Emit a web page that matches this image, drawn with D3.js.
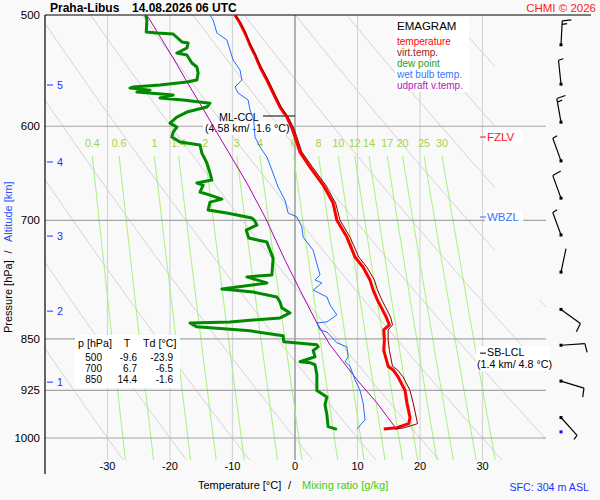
<!DOCTYPE html>
<html>
<head>
<meta charset="utf-8">
<script src="https://cdn.jsdelivr.net/npm/d3@7"></script>
<style>
  body { margin: 0; background: #f9f9f9; }
  svg { font-family: "Liberation Sans", Arial, sans-serif; font-size: 10.7px; }
</style>
</head>
<body>
<div id="emagram"></div>
<script>
// Sounding data (pressure in hPa, temperatures in deg C)
var tempP = [500, 506.6, 515, 525.2, 533.9, 544.5, 556.2, 568.2, 581.4, 591, 601.8, 610.7, 625.9, 641.5, 660.7, 680.5, 699.8, 719.5, 743.4, 755.9, 771.8, 784.8, 797.7, 820.4, 830.8, 837.7, 851.6, 866.3, 889, 894.5, 904.8, 925, 944, 966.8, 976.8, 983.3, 985.5];
var tempT = [-9.6, -8.8, -8.0, -7.2, -6.4, -5.6, -4.5, -3.5, -2.4, -1.3, -0.5, 0.0, 0.8, 2.4, 4.5, 6.1, 6.7, 8.3, 9.6, 10.9, 12.0, 12.5, 13.2, 14.6, 15.1, 14.2, 14.3, 14.2, 14.9, 15.7, 16.5, 17.6, 17.9, 18.4, 18.2, 16.3, 14.2];
var virtT = [-9.5, -8.7, -7.9, -7.1, -6.3, -5.4, -4.3, -3.3, -2.2, -1.1, -0.2, 0.3, 1.1, 2.8, 4.9, 6.5, 7.2, 8.8, 10.2, 11.5, 12.7, 13.2, 13.9, 15.3, 15.6, 14.9, 14.9, 15.1, 15.6, 16.4, 17.3, 18.4, 18.9, 19.4, 19.6, 17.5, 16.0];

var dewP = [500, 504.1, 514.2, 515, 515.8, 522.6, 523.5, 527.8, 532.2, 533.9, 540.9, 544.5, 549.9, 556.2, 558.1, 560.8, 562.6, 563.6, 565.5, 567.3, 570.1, 572.9, 574.7, 577.7, 581.4, 586.2, 591, 596.9, 600.8, 605.9, 610.7, 615.7, 618.7, 627, 637.2, 647.7, 655.3, 658.5, 660.7, 668.3, 671.7, 676.1, 679.4, 688.3, 691.7, 697.4, 700, 705.4, 711.3, 720.6, 725.4, 735.1, 744.7, 765.5, 768, 775.6, 783.5, 787.3, 793.6, 800.2, 808, 814.7, 821.4, 826.8, 828.2, 833.5, 838.9, 845.7, 854.1, 858.4, 861.3, 866.3, 875.4, 882.6, 883.9, 886.9, 901.5, 925, 935, 946.8, 962.4, 981.5, 986];
var dewT = [-23.9, -23.7, -23.8, -22.1, -19.5, -18.1, -17.1, -17.3, -18.9, -17.3, -16.5, -15.7, -15.5, -15.7, -17.3, -21.6, -25.9, -26.4, -23.2, -25.3, -19.5, -21.6, -17.9, -13.6, -14.1, -17.3, -18.9, -20.0, -18.9, -19.5, -19.7, -18.4, -15.2, -14.9, -14.1, -13.6, -13.3, -15.7, -14.7, -15.2, -13.6, -11.7, -13.6, -13.9, -10.9, -6.9, -6.5, -6.1, -7.8, -7.4, -4.5, -4.0, -3.5, -3.7, -7.7, -4.5, -11.7, -6.7, -2.9, -2.4, -2.1, -0.8, -2.4, -10.4, -16.8, -15.7, -7.2, -1.9, -1.8, 3.5, 3.7, 2.9, 3.2, 0.8, 2.4, 3.2, 3.5, 3.5, 5.1, 4.8, 5.1, 5.3, 6.7];

var wetP = [500, 504.1, 515, 520.9, 529.5, 538.3, 547.1, 556.2, 562.6, 568.2, 574.7, 584.2, 593.9, 610.7, 620.8, 631, 644.6, 662.9, 677.2, 691.7, 696.2, 707.7, 719.5, 735.1, 765.5, 771.8, 775.6, 784.8, 793.6, 803.9, 817.3, 826.8, 828.2, 837.7, 840.5, 855.5, 861.3, 875.4, 882.6, 889, 908.9, 925, 944, 970.4, 983.3, 985.5];
var wetT = [-13.6, -13.1, -12.5, -10.9, -10.4, -9.9, -8.8, -8.5, -9.6, -9.1, -7.5, -7.2, -6.6, -6.4, -5.6, -4.5, -3.7, -2.7, -1.6, -1.1, 0.3, 1.1, 1.3, 2.9, 4.0, 3.2, 4.3, 2.9, 5.1, 5.6, 6.7, 5.1, 3.5, 4.0, 5.1, 6.7, 8.3, 8.5, 8.0, 8.8, 9.6, 10.4, 10.9, 11.2, 10.1, 9.9];

var parcelP = [500, 536.5, 562.6, 584.2, 613.6, 658.5, 696.2, 747.2, 784.8, 828.2, 858.4, 908.9, 944, 986.3];
var parcelT = [-23.7, -19.5, -16.8, -14.6, -11.8, -7.7, -4.8, -1.6, 0.8, 3.5, 5.6, 9.9, 13.1, 16.3];

// Wind (direction deg, speed kt)
var windP = [525, 560, 596, 635, 675, 717, 762, 810, 859, 911, 967];
var windDir = [3, 354, 350, 340, 340, 340, 12, 126, 86, 107, 138];
var windSpd = [15, 5, 15, 5, 10, 5, 2, 10, 10, 10, 5];
var sfcP = 990;

// Axes and reference lines
var pressureTicks = [500, 600, 700, 850, 925, 1000];
var isobars = [600, 700, 850, 925, 1000];
var tempTicks = [-30, -20, -10, 0, 10, 20, 30];
var altKm = [1, 2, 3, 4, 5];
var altP = [912.5, 812.3, 718.3, 636.2, 560.8];
var mixRatios = [0.4, 0.6, 1, 1.4, 2, 3, 4, 6, 8, 10, 12, 14, 17, 20, 25, 30];
var adiabats = d3.range(-30, 171, 10);

// Table of standard levels
var tableP = [500, 700, 850];
var tableT = [-9.6, 6.7, 14.4];
var tableTd = [-23.9, -6.5, -1.6];

// Levels of annotations
var mlCclP = 590, fzlvP = 610.7, wbzlP = 696.2, sbLclP = 870.2;

// Set up the chart
var svgWidth = 600;
var svgHeight = 500;
var plotLeft = 45, plotRight = 546, plotTop = 15;
var bottomP = 1037;

var svg = d3.select("#emagram")
  .append("svg")
  .attr("width", svgWidth)
  .attr("height", svgHeight);

var xScale = d3.scaleLinear().domain([-40, 40]).range([45, 545]);
var yScale = d3.scaleLog().domain([500, 1000]).range([15, 438]);
var plotBottom = yScale(bottomP);

// saturation temperature for a mixing ratio (g/kg) at pressure p
function satTemp(w, p) {
  var e = w * p / (622 + w);
  var l = Math.log(e / 6.112);
  return 243.5 * l / (17.67 - l);
}

var line = d3.line()
  .x(d => xScale(d[1]))
  .y(d => yScale(d[0]));

svg.append("clipPath").attr("id", "plotClip")
  .append("polygon")
  .attr("points", `${plotLeft},${plotTop} 495,${plotTop} 495,300 ${plotRight},300 ${plotRight},${plotBottom} ${plotLeft},${plotBottom}`);

var grid = svg.append("g").attr("clip-path", "url(#plotClip)");
var pSteps = d3.range(500, bottomP, 4).concat([bottomP]);

// Dry adiabats
grid.selectAll(".adiabat")
  .data(adiabats)
  .enter()
  .append("path")
  .attr("class", "adiabat")
  .attr("d", th => line(pSteps.map(p => [p, (th + 273.15) * Math.pow(p / 1000, 0.286) - 273.15])))
  .attr("fill", "none")
  .attr("stroke", "#d2d2d2")
  .attr("stroke-width", 1);

// Isotherms
grid.selectAll(".isotherm")
  .data(tempTicks)
  .enter()
  .append("line")
  .attr("x1", d => xScale(d))
  .attr("x2", d => xScale(d))
  .attr("y1", yScale(500))
  .attr("y2", plotBottom)
  .attr("stroke", d => d === 0 ? "#8c8c8c" : "#d6d6d6")
  .attr("stroke-width", d => d === 0 ? 1.3 : 1.2);

// Mixing ratio lines
var mixSteps = d3.range(630, bottomP, 5).concat([bottomP]);
grid.selectAll(".mixing")
  .data(mixRatios)
  .enter()
  .append("path")
  .attr("d", w => line(mixSteps.map(p => [p, satTemp(w, p)])))
  .attr("fill", "none")
  .attr("stroke", "#a6f07a")
  .attr("stroke-width", 1);

svg.selectAll(".mixLabel")
  .data(mixRatios)
  .enter()
  .append("text")
  .attr("x", w => xScale(satTemp(w, 630)))
  .attr("y", 147)
  .attr("text-anchor", "middle")
  .attr("fill", "#9fd34a")
  .text(d => d);

// Isobars
svg.selectAll(".isobar")
  .data(isobars)
  .enter()
  .append("line")
  .attr("x1", plotLeft)
  .attr("x2", plotRight)
  .attr("y1", d => yScale(d))
  .attr("y2", d => yScale(d))
  .attr("stroke", "#a6a6a6")
  .attr("stroke-width", 1.2);

// Frame
svg.append("line").attr("x1", plotLeft).attr("x2", 591).attr("y1", plotTop).attr("y2", plotTop)
  .attr("stroke", "#000").attr("stroke-width", 1.2);
svg.append("line").attr("x1", plotLeft).attr("x2", plotLeft).attr("y1", plotTop).attr("y2", 474)
  .attr("stroke", "#000").attr("stroke-width", 1.2);

// Pressure labels
svg.selectAll(".pLabel")
  .data(pressureTicks)
  .enter()
  .append("text")
  .attr("x", 40)
  .attr("y", d => yScale(d) + 4)
  .attr("text-anchor", "end")
  .attr("font-size", "11.5px")
  .text(d => d);

// Temperature labels
svg.selectAll(".tLabel")
  .data(tempTicks)
  .enter()
  .append("text")
  .attr("x", d => xScale(d))
  .attr("y", 470)
  .attr("text-anchor", "middle")
  .attr("font-size", "11px")
  .text(d => d);

// Altitude ticks
var altG = svg.append("g");
altG.selectAll("line")
  .data(altP)
  .enter()
  .append("line")
  .attr("x1", 47).attr("x2", 53)
  .attr("y1", d => yScale(d)).attr("y2", d => yScale(d))
  .attr("stroke", "#2030ff");
altG.selectAll("text")
  .data(altP)
  .enter()
  .append("text")
  .attr("x", 57)
  .attr("y", d => yScale(d) + 4)
  .attr("fill", "#2030ff")
  .text((d, i) => altKm[i]);

// Axis titles
svg.append("text").attr("transform", "translate(12, 333) rotate(-90)").attr("font-size", "11px").text("Pressure [hPa]");
svg.append("text").attr("transform", "translate(12, 252) rotate(-90)").attr("font-size", "11px").attr("text-anchor", "middle").text("/");
svg.append("text").attr("transform", "translate(12, 242) rotate(-90)").attr("font-size", "11px").attr("fill", "#2a50ff").text("Altitude [km]");

svg.append("text").attr("x", 198).attr("y", 489).attr("font-size", "11px").text("Temperature [°C]");
svg.append("text").attr("x", 288).attr("y", 489).attr("font-size", "11px").text("/");
svg.append("text").attr("x", 302).attr("y", 489).attr("font-size", "11px").attr("fill", "#44cc11").text("Mixing ratio [g/kg]");
svg.append("text").attr("x", 589).attr("y", 491).attr("text-anchor", "end").attr("fill", "#2233ff").text("SFC: 304 m ASL");

// Title
svg.append("text").attr("x", 50).attr("y", 12).attr("font-weight", "bold").attr("font-size", "12px").text("Praha-Libus");
svg.append("text").attr("x", 132).attr("y", 12).attr("font-weight", "bold").attr("font-size", "12px").text("14.08.2026 06 UTC");
svg.append("text").attr("x", 596).attr("y", 12).attr("text-anchor", "end").attr("fill", "#ff2020").attr("font-size", "11.5px").text("CHMI © 2026");

// Legend
var legend = svg.append("g");
legend.append("rect").attr("x", 395).attr("y", 17).attr("width", 74).attr("height", 75).attr("fill", "#fff");
legend.append("text").attr("x", 397).attr("y", 30).attr("font-size", "11.5px").text("EMAGRAM");
var legendItems = ["temperature", "virt.temp.", "dew point", "wet bulb temp.", "udpraft v.temp."];
var legendColors = ["#ff0000", "#a01818", "#1fa01f", "#3377ff", "#b020c0"];
legend.selectAll(".item")
  .data(legendItems)
  .enter()
  .append("text")
  .attr("x", 397)
  .attr("y", (d, i) => 45 + i * 11)
  .attr("font-size", "10px")
  .attr("fill", (d, i) => legendColors[i])
  .text(d => d);

// Table of standard levels
var table = svg.append("g").attr("font-size", "10px");
table.append("rect").attr("x", 75).attr("y", 335).attr("width", 105).attr("height", 53).attr("fill", "#fff");
table.append("text").attr("x", 78).attr("y", 347).attr("font-size", "10.7px").text("p [hPa]");
table.append("text").attr("x", 127).attr("y", 347).attr("font-size", "10.7px").attr("text-anchor", "middle").text("T");
table.append("text").attr("x", 143).attr("y", 347).attr("font-size", "10.7px").text("Td [°C]");
tableP.forEach(function(p, i) {
  var yy = 361 + i * 11;
  table.append("text").attr("x", 102).attr("y", yy).attr("text-anchor", "end").text(p);
  table.append("text").attr("x", 137).attr("y", yy).attr("text-anchor", "end").text(tableT[i].toFixed(1));
  table.append("text").attr("x", 173).attr("y", yy).attr("text-anchor", "end").text(tableTd[i].toFixed(1));
});

// Annotations
var ann = svg.append("g");
var yCcl = yScale(mlCclP);
ann.append("rect").attr("x", 203).attr("y", yCcl + 6).attr("width", 85).attr("height", 13).attr("fill", "#fff");
ann.append("text").attr("x", 219).attr("y", yCcl + 5).text("ML-CCL");
ann.append("line").attr("x1", 263).attr("x2", xScale(0)).attr("y1", yCcl).attr("y2", yCcl).attr("stroke", "#000");
ann.append("text").attr("x", 205).attr("y", yCcl + 16).text("(4.58 km/ -1.6 °C)");

function levelLabel(p, label, color) {
  var yy = yScale(p);
  ann.append("rect").attr("x", 485).attr("y", yy - 7).attr("width", 38).attr("height", 14).attr("fill", "#fff");
  ann.append("line").attr("x1", 480).attr("x2", 486).attr("y1", yy).attr("y2", yy).attr("stroke", color);
  ann.append("text").attr("x", 487).attr("y", yy + 4).attr("fill", color).attr("font-size", "11.5px").text(label);
}
levelLabel(fzlvP, "FZLV", "#ff1010");
levelLabel(wbzlP, "WBZL", "#3377ff");

var yLcl = yScale(sbLclP);
ann.append("rect").attr("x", 476).attr("y", yLcl - 7).attr("width", 74).attr("height", 25).attr("fill", "#fff");
ann.append("line").attr("x1", 480).attr("x2", 486).attr("y1", yLcl).attr("y2", yLcl).attr("stroke", "#000");
ann.append("text").attr("x", 487).attr("y", yLcl + 3).text("SB-LCL");
ann.append("text").attr("x", 477).attr("y", yLcl + 15).text("(1.4 km/ 4.8 °C)");

// Profiles
var curves = svg.append("g").attr("fill", "none").attr("stroke-linejoin", "round");
curves.append("path").attr("d", line(d3.zip(parcelP, parcelT))).attr("stroke", "#b000b0").attr("stroke-width", 1);
curves.append("path").attr("d", line(d3.zip(wetP, wetT))).attr("stroke", "#1f6fff").attr("stroke-width", 1);
curves.append("path").attr("d", line(d3.zip(dewP, dewT))).attr("stroke", "#008a00").attr("stroke-width", 3);
curves.append("path").attr("d", line(d3.zip(tempP, tempT))).attr("stroke", "#ff0000").attr("stroke-width", 3);
curves.append("path").attr("d", line(d3.zip(tempP, virtT))).attr("stroke", "#8b0000").attr("stroke-width", 1);

// Wind barbs
var barbX = 561, staffLen = 24;
var barbs = svg.append("g").attr("stroke", "#000").attr("stroke-width", 1.2).attr("fill", "none");
windP.forEach(function(p, i) {
  var by = yScale(p);
  var a = windDir[i] * Math.PI / 180;
  var ux = Math.sin(a), uy = -Math.cos(a);
  var nx = -uy, ny = ux;
  var tx = barbX + staffLen * ux, ty = by + staffLen * uy;
  barbs.append("line").attr("x1", barbX).attr("y1", by).attr("x2", tx).attr("y2", ty);
  var fulls = Math.floor(windSpd[i] / 10);
  var halves = Math.floor((windSpd[i] % 10) / 5);
  var k = 0;
  for (var f = 0; f < fulls; f++, k++) {
    var sx = tx - k * 3.5 * ux, sy = ty - k * 3.5 * uy;
    barbs.append("line").attr("x1", sx).attr("y1", sy).attr("x2", sx + 9 * nx + 1.5 * ux).attr("y2", sy + 9 * ny + 1.5 * uy);
  }
  for (var h = 0; h < halves; h++, k++) {
    var hx = tx - k * 3.5 * ux, hy = ty - k * 3.5 * uy;
    barbs.append("line").attr("x1", hx).attr("y1", hy).attr("x2", hx + 5 * nx + 1 * ux).attr("y2", hy + 5 * ny + 1 * uy);
  }
  svg.append("rect").attr("x", barbX - 1.5).attr("y", by - 1.5).attr("width", 3).attr("height", 3).attr("fill", "#000");
});
svg.append("rect").attr("x", barbX - 1.5).attr("y", yScale(sfcP) - 1.5).attr("width", 3).attr("height", 3).attr("fill", "#1010ff");
</script>
</body>
</html>
